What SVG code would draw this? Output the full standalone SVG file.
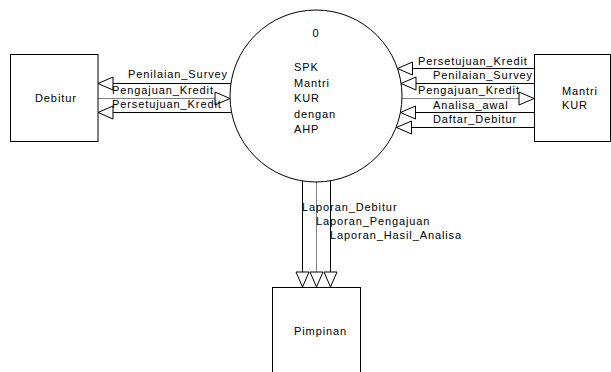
<svg xmlns="http://www.w3.org/2000/svg" width="611" height="372" viewBox="0 0 611 372">
<style>
.box{fill:#fff;stroke:#000;stroke-width:1}
.t{font-family:"Liberation Sans",Arial,sans-serif;font-size:11px;letter-spacing:0.9px;fill:#000}
.f{stroke:#000;stroke-width:1;fill:none;marker-end:url(#arr)}
.g{stroke:#808080}
</style>
<defs>
<marker id="arr" markerUnits="userSpaceOnUse" markerWidth="17" markerHeight="16" viewBox="-1 -8 17 16" refX="15" refY="0" orient="auto" overflow="visible">
<path d="M0,-6.5 L15,0 L0,6.5 Z" fill="#fff" stroke="#000" stroke-width="1"/>
</marker>
</defs>
<rect width="611" height="372" fill="#fff"/>
<g id="connectors">
<line class="f" x1="231" y1="83.5" x2="98" y2="83.5"/>
<line class="f g" x1="98" y1="98.5" x2="230" y2="98.5"/>
<line class="f" x1="231.5" y1="112.5" x2="98" y2="112.5"/>
<line class="f" x1="534" y1="68.5" x2="397.5" y2="68.5"/>
<line class="f" x1="534" y1="83.5" x2="401" y2="83.5"/>
<line class="f g" x1="402" y1="98.5" x2="534" y2="98.5"/>
<line class="f" x1="534" y1="112.5" x2="400.5" y2="112.5"/>
<line class="f" x1="534" y1="127.5" x2="396.5" y2="127.5"/>
<line class="f" x1="302.5" y1="181" x2="302.5" y2="287"/>
<line class="f g" x1="316.5" y1="182" x2="316.5" y2="287"/>
<line class="f" x1="330.5" y1="181" x2="330.5" y2="287"/>
<text class="t" x="128" y="78">Penilaian_Survey</text>
<text class="t" x="112" y="94">Pengajuan_Kredit</text>
<text class="t" x="112" y="108">Persetujuan_Kredit</text>
<text class="t" x="418" y="65">Persetujuan_Kredit</text>
<text class="t" x="433" y="79">Penilaian_Survey</text>
<text class="t" x="418" y="94">Pengajuan_Kredit</text>
<text class="t" x="433" y="109">Analisa_awal</text>
<text class="t" x="433" y="123">Daftar_Debitur</text>
<text class="t" x="302" y="211">Laporan_Debitur</text>
<text class="t" x="316" y="225">Laporan_Pengajuan</text>
<text class="t" x="330" y="239">Laporan_Hasil_Analisa</text>
</g>
<g id="process">
<circle class="box" cx="316" cy="96" r="86"/>
<text class="t" x="316" y="37" text-anchor="middle">0</text>
<text class="t" x="294" y="71">SPK</text>
<text class="t" x="294" y="86.5">Mantri</text>
<text class="t" x="294" y="102">KUR</text>
<text class="t" x="294" y="117.5">dengan</text>
<text class="t" x="294" y="133">AHP</text>
</g>
<g id="debitur">
<rect class="box" x="10.5" y="54.5" width="87.5" height="87"/>
<text class="t" x="35" y="102">Debitur</text>
</g>
<g id="mantri">
<rect class="box" x="534.5" y="54.5" width="76" height="87"/>
<text class="t" x="562" y="95">Mantri</text>
<text class="t" x="562" y="109">KUR</text>
</g>
<g id="pimpinan">
<rect class="box" x="272.5" y="287.5" width="88" height="90"/>
<text class="t" x="294" y="335">Pimpinan</text>
</g>
</svg>
